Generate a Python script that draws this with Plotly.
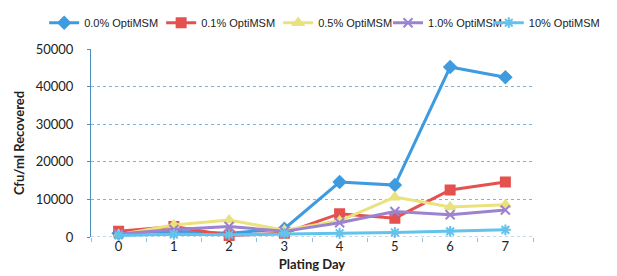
import plotly.graph_objects as go

day_labels = ["0", "1", "2", "3", "4", "5", "6", "7"]
s00 = [1000, 1500, 1000, 2200, 14600, 13800, 45200, 42500]
s01 = [1500, 2800, 400, 1000, 6200, 5000, 12500, 14600]
s05 = [600, 3200, 4500, 1800, 4300, 10600, 8000, 8600]
s10 = [800, 2000, 2800, 1500, 3800, 6800, 5900, 7200]
s100 = [400, 700, 600, 900, 1000, 1200, 1500, 1900]

names = ["0.0% OptiMSM", "0.1% OptiMSM", "0.5% OptiMSM", "1.0% OptiMSM", "10% OptiMSM"]
colors = ["#3f9be0", "#e4514f", "#e9e27e", "#9c82cf", "#62c3ec"]
symbols = ["diamond", "square", "triangle-up", "x-thin-open", "asterisk-open"]
series = [s00, s01, s05, s10, s100]
legend_ids = ["legend", "legend", "legend", "legend2", "legend3"]

fig = go.Figure()
for name, vals, c, sym, lg in zip(names, series, colors, symbols, legend_ids):
    fig.add_trace(go.Scatter(
        x=day_labels, y=vals, name=name, mode="lines+markers",
        line=dict(color=c, width=3),
        marker=dict(symbol=sym, size=9, color=c, line=dict(color=c, width=2)),
        cliponaxis=False, legend=lg,
    ))

leg_common = dict(orientation="h", y=1.14, xanchor="left", yanchor="middle",
                  font=dict(family="Liberation Sans, Arial, sans-serif", size=11, color="#222"),
                  itemwidth=30, tracegroupgap=0, bgcolor="rgba(0,0,0,0)")

fig.update_layout(
    width=617, height=276,
    paper_bgcolor="white", plot_bgcolor="white",
    margin=dict(l=83, r=92, t=41, b=47, autoexpand=False),
    font=dict(family="Lato, Arial, sans-serif", size=12, color="#222"),
    legend=dict(x=-0.106, entrywidth=72, entrywidthmode="pixels", **leg_common),
    legend2=dict(x=0.672, **leg_common),
    legend3=dict(x=0.9, **leg_common),
    xaxis=dict(
        type="category", range=[-0.5, 7.5], showgrid=False, zeroline=False,
        showline=False, ticks="outside", ticklen=4, tickcolor="#8fbfe0",
        tickson="boundaries",
        tickfont=dict(size=13, color="#222"),
        title=dict(text="<b>Plating Day</b>", font=dict(size=13), standoff=6),
    ),
    yaxis=dict(
        range=[0, 50000], tickvals=[0, 10000, 20000, 30000, 40000, 50000],
        tickformat="d", showgrid=True, gridcolor="#7fb3dc", griddash="dot", gridwidth=1,
        zeroline=False, showline=True, linecolor="#4d8fbf", linewidth=1,
        ticks="outside", ticklen=3, tickcolor="#4d8fbf", ticklabelstandoff=11,
        tickfont=dict(size=13, color="#222"),
        title=dict(text="<b>Cfu/ml Recovered</b>", font=dict(size=13), standoff=8),
    ),
)
fig.add_hline(y=0, line=dict(color="#7fb3dc", width=1, dash="dot"))
fig.write_html("out.html")
